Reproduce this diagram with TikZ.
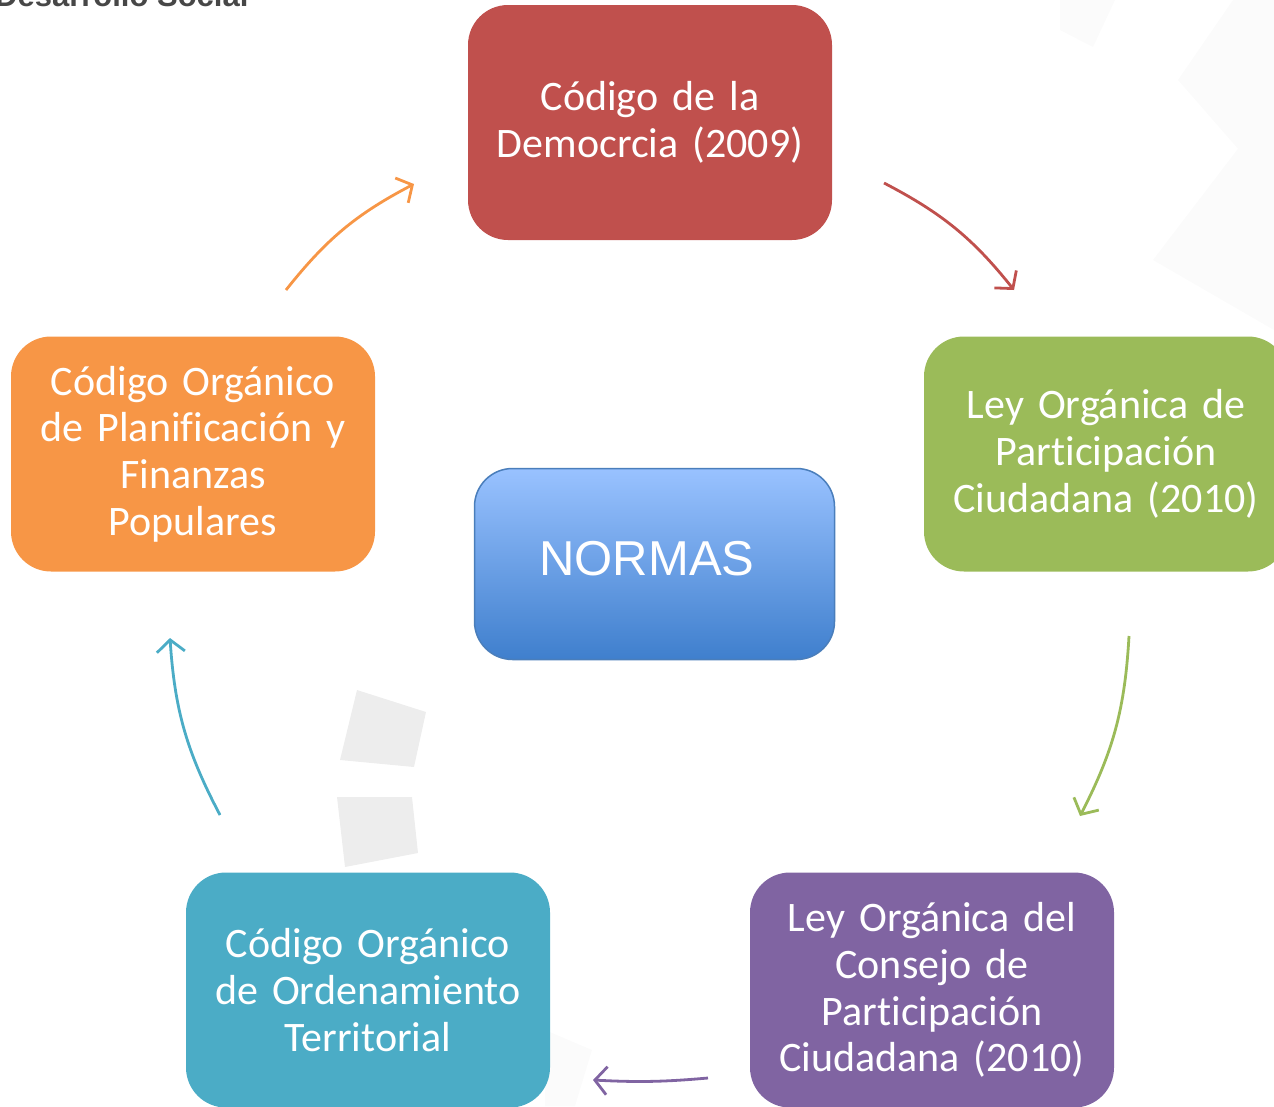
\documentclass[tikz,border=0pt]{standalone}
\usepackage{fontspec}
\setmainfont{Carlito}[Ligatures=NoCommon]
\newfontfamily\arialf{Liberation Sans}
\usetikzlibrary{arrows.meta}
\newcommand\boxtextfont{\fontsize{42}{46.7}\selectfont\fontdimen2\font=0.17em\relax}
\definecolor{cred}{HTML}{C0504D}
\definecolor{cgreen}{HTML}{9BBB59}
\definecolor{corange}{HTML}{F79646}
\definecolor{cteal}{HTML}{4BACC6}
\definecolor{cpurple}{HTML}{8064A2}
\definecolor{btop}{HTML}{99C2FF}
\definecolor{bbot}{HTML}{3F7FCD}
\definecolor{bborder}{HTML}{4A7EBB}
\definecolor{ghost}{HTML}{EDEDED}
\definecolor{ghostlight}{HTML}{FBFBFB}
\definecolor{titlegray}{HTML}{474747}
\begin{document}
\begin{tikzpicture}[x=1pt,y=-1pt,
 box/.style={rounded corners=40pt, minimum width=364pt, minimum height=235pt, inner sep=0pt, text width=355pt, align=center, text=white, font=\boxtextfont},
 cyc/.style={line width=2.8pt, -{Straight Barb[length=12pt,width=28pt]}},
 ghostshape/.style={fill=ghost, draw=none},
 ghostfaint/.style={fill=ghostlight, draw=none}]
\useasboundingbox (0,0) rectangle (1274,1106);
\clip (0,0) rectangle (1274,1106);
% faint background shapes
\fill[ghostfaint] (1060,0) -- (1115,0) -- (1093,47) -- (1060,30) -- cycle;
\fill[ghostfaint] (1233,0) -- (1274,0) -- (1274,190) -- (1178,80) -- cycle;
\fill[ghostfaint] (1250,133) -- (1274,120) -- (1274,330) -- (1153,260) -- cycle;
\fill[ghostshape] (357,690) -- (426,712) -- (414,767) -- (340,760) -- cycle;
\fill[ghostshape] (337,797) -- (412,797) -- (418,853) -- (345,867) -- cycle;
\fill[ghostfaint] (545,1030) -- (592,1050) -- (575,1106) -- (545,1106) -- cycle;
% title fragment
\node[anchor=base west, inner sep=0pt, text=titlegray, font=\arialf\bfseries\fontsize{31}{31}\selectfont] (title) at (-5,6) {Desarrollo Social};
% boxes
\node[box, fill=cred] (dem) at (650,122.5) {Código de la\\Democrcia (2009)};
\node[box, fill=cgreen] (lopc) at (1106,454) {Ley Orgánica de\\Participación\\Ciudadana (2010)};
\node[box, fill=cpurple] (locp) at (932,990) {Ley Orgánica del\\Consejo de\\Participación\\Ciudadana (2010)};
\node[box, fill=cteal] (coot) at (368,990) {Código Orgánico\\de Ordenamiento\\Territorial};
\node[box, fill=corange] (copf) at (193,454) {Código Orgánico\\de Planificación y\\Finanzas\\Populares};
\node[rounded corners=38pt, minimum width=360pt, minimum height=191pt, inner sep=0pt, draw=bborder, line width=1.5pt, top color=btop, bottom color=bbot, middle color=btop!50!bbot] (normas) at (654.5,564) {};
\node[text=white, inner sep=0pt, font=\arialf\fontsize{49}{49}\selectfont] (normastxt) at (647,559) {NORMAS};
% arrow end points
\coordinate (o1) at (286,290); \coordinate (o2) at (414,184);
\coordinate (r1) at (884,183); \coordinate (r2) at (1014,290);
\coordinate (g1) at (1129,636); \coordinate (g2) at (1080,816);
\coordinate (p1) at (708,1078); \coordinate (p2) at (593,1080);
\coordinate (t1) at (220,815); \coordinate (t2) at (170,638);
\draw[cyc, draw=corange] (o1) to[bend left=12] (o2);
\draw[cyc, draw=cred] (r1) to[bend left=12] (r2);
\draw[cyc, draw=cgreen] (g1) to[bend left=12] (g2);
\draw[cyc, draw=cpurple] (p1) to[bend left=4] (p2);
\draw[cyc, draw=cteal] (t1) to[bend left=12] (t2);
\end{tikzpicture}
\end{document}
